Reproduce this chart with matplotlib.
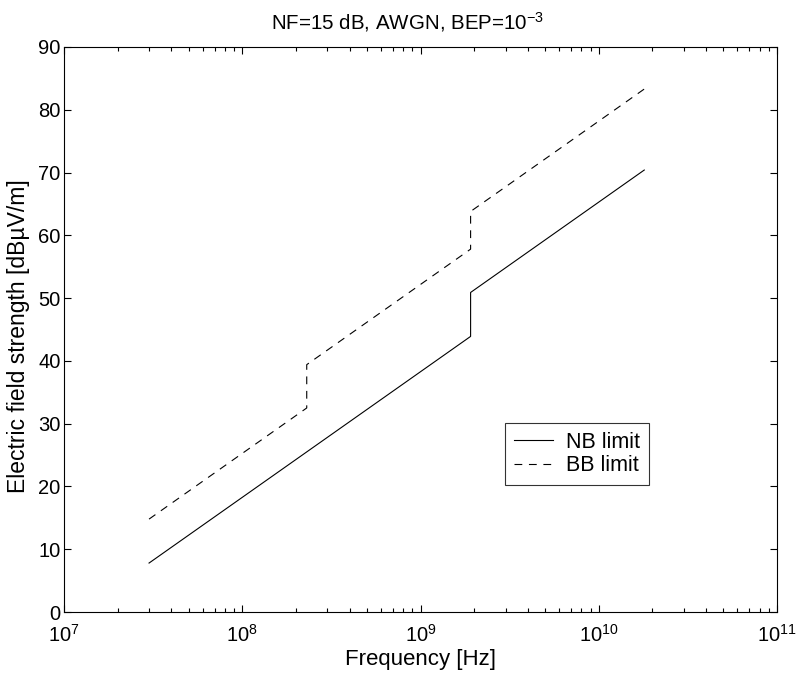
import matplotlib
matplotlib.use("Agg")
import matplotlib.pyplot as plt
from matplotlib.ticker import LogLocator, NullFormatter

plt.rcParams['font.family'] = ['Liberation Sans', 'DejaVu Sans']
plt.rcParams['mathtext.fontset'] = 'custom'
plt.rcParams['mathtext.rm'] = 'Liberation Sans'
plt.rcParams['mathtext.it'] = 'Liberation Sans'

# narrowband limit
nb_freq = [3e7, 1.91e9, 1.91e9, 1.8e10]
nb_field = [7.8, 43.9, 50.9, 70.4]

# broadband limit
bb_freq = [3e7, 2.3e8, 2.3e8, 1.91e9, 1.91e9, 1.8e10]
bb_field = [14.8, 32.5, 39.4, 57.8, 63.8, 83.3]

fig = plt.figure(figsize=(7.98, 6.75), dpi=100)
ax = fig.add_axes([0.0802, 0.0933, 0.8935, 0.8371])

ax.plot(nb_freq, nb_field, color='black', lw=0.8, label='NB limit')
ax.plot(bb_freq, bb_field, color='black', lw=0.8, dashes=(7, 6), label='BB limit')

ax.set_xscale('log')
ax.set_xlim(1e7, 1e11)
ax.set_ylim(0, 90)
ax.set_yticks(range(0, 91, 10))
ax.xaxis.set_major_locator(LogLocator(base=10, numticks=10))
ax.xaxis.set_minor_locator(LogLocator(base=10, subs=range(2, 10), numticks=50))
ax.xaxis.set_minor_formatter(NullFormatter())

ax.tick_params(which='both', direction='in', top=True, right=True, labelsize=14.5, width=0.8)
ax.tick_params(which='major', length=5)
ax.tick_params(which='minor', length=3)
ax.tick_params(axis='x', pad=8.5)
ax.tick_params(axis='y', pad=2.5)
for s in ax.spines.values():
    s.set_linewidth(0.8)

ax.set_xlabel('Frequency [Hz]', fontsize=16, labelpad=2)
ax.set_ylabel('Electric field strength [dBµV/m]', fontsize=16.5)
ax.yaxis.set_label_coords(-0.047, 0.488)
ax.set_title('NF=15 dB, AWGN, BEP=10$^{-3}$', fontsize=14.8, pad=13, x=0.482)

leg = ax.legend(loc='upper left', bbox_to_anchor=(0.6185, 0.334), fontsize=15.5,
                frameon=True, fancybox=False, edgecolor='black', borderpad=0.4,
                handlelength=1.85, handletextpad=0.6, labelspacing=0.1, borderaxespad=0)
leg.get_frame().set_linewidth(0.8)

fig.savefig('out.png', dpi=100)
